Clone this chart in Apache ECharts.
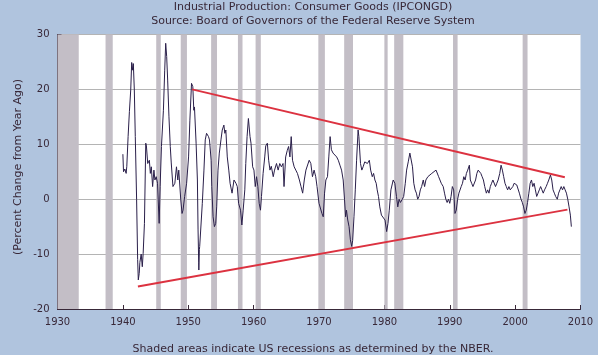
<!DOCTYPE html>
<html><head><meta charset="utf-8">
<script src="https://cdn.jsdelivr.net/npm/echarts@6/dist/echarts.min.js"></script>
<style>html,body{margin:0;padding:0;background:#b0c4de;}#c{width:598px;height:355px;}</style>
</head><body><div id="c"></div>
<script>
const years = [1940.0,1940.1,1940.3,1940.5,1940.6,1940.8,1941.0,1941.2,1941.35,1941.5,1941.6,1941.75,1941.9,1942.1,1942.26,1942.36,1942.5,1942.6,1942.7,1942.8,1942.97,1943.1,1943.3,1943.5,1943.6,1943.8,1944.05,1944.2,1944.35,1944.55,1944.75,1944.9,1945.1,1945.3,1945.55,1945.7,1945.9,1946.2,1946.4,1946.55,1946.7,1946.85,1947.05,1947.25,1947.4,1947.66,1947.95,1948.2,1948.4,1948.55,1948.85,1949.05,1949.2,1949.45,1949.75,1950.05,1950.25,1950.5,1950.7,1950.85,1950.95,1951.2,1951.4,1951.5,1951.6,1951.62,1951.7,1951.75,1951.9,1952.15,1952.4,1952.6,1952.8,1953.1,1953.25,1953.5,1953.6,1953.8,1954.0,1954.2,1954.35,1954.55,1954.75,1955.0,1955.2,1955.45,1955.6,1955.75,1955.97,1956.2,1956.4,1956.7,1957.0,1957.3,1957.5,1957.7,1958.0,1958.2,1958.4,1958.65,1958.8,1959.0,1959.2,1959.45,1959.6,1959.85,1960.05,1960.25,1960.45,1960.65,1960.85,1961.05,1961.2,1961.45,1961.7,1961.85,1962.1,1962.3,1962.5,1962.7,1963.0,1963.2,1963.5,1963.75,1964.0,1964.25,1964.5,1964.65,1964.9,1965.15,1965.35,1965.55,1965.75,1965.95,1966.2,1966.45,1966.7,1967.0,1967.25,1967.5,1967.75,1968.0,1968.25,1968.5,1968.75,1969.0,1969.25,1969.5,1969.7,1970.0,1970.25,1970.45,1970.65,1970.85,1971.05,1971.3,1971.5,1971.7,1971.9,1972.15,1972.4,1972.7,1972.95,1973.2,1973.45,1973.7,1973.9,1974.07,1974.2,1974.4,1974.6,1974.8,1975.0,1975.15,1975.35,1975.55,1975.75,1975.98,1976.1,1976.35,1976.55,1976.75,1977.0,1977.2,1977.4,1977.7,1977.9,1978.15,1978.35,1978.55,1978.75,1978.9,1979.1,1979.3,1979.55,1979.8,1980.1,1980.35,1980.55,1980.75,1981.0,1981.35,1981.6,1981.85,1982.05,1982.25,1982.45,1982.75,1982.95,1983.2,1983.4,1983.65,1983.9,1984.1,1984.3,1984.5,1984.7,1984.9,1985.1,1985.3,1985.5,1985.7,1985.95,1986.15,1986.35,1986.65,1986.95,1987.25,1987.55,1987.9,1988.1,1988.3,1988.5,1988.7,1989.0,1989.2,1989.4,1989.6,1989.8,1990.0,1990.2,1990.4,1990.6,1990.8,1991.0,1991.2,1991.4,1991.75,1991.95,1992.15,1992.35,1992.55,1992.75,1993.0,1993.15,1993.35,1993.55,1993.75,1993.95,1994.15,1994.35,1994.55,1994.75,1994.95,1995.15,1995.35,1995.6,1995.8,1996.0,1996.2,1996.4,1996.6,1996.8,1997.0,1997.2,1997.4,1997.65,1997.85,1998.05,1998.25,1998.45,1998.65,1998.85,1999.05,1999.25,1999.45,1999.65,1999.85,2000.05,2000.25,2000.45,2000.65,2000.9,2001.1,2001.3,2001.5,2001.7,2001.9,2002.1,2002.3,2002.5,2002.7,2002.9,2003.1,2003.3,2003.5,2003.7,2003.9,2004.1,2004.3,2004.5,2004.75,2004.95,2005.15,2005.4,2005.6,2005.8,2006.0,2006.2,2006.45,2006.65,2006.85,2007.05,2007.25,2007.45,2007.65,2007.85,2008.05,2008.25,2008.45,2008.6];
const values = [8.2,5.0,5.5,4.7,6.0,11.4,16,19.9,24.9,23.5,24.7,19.9,11.4,0,-11,-14.7,-13.5,-11.5,-11.7,-10,-12.3,-9.9,-4.4,10.2,9.7,6.5,7.1,4.7,5.9,2.3,5.3,3.5,4.1,2.9,-4.4,2.3,9.6,16.2,23.5,28.4,26,21.7,15,9.6,6.6,2.3,2.9,5.9,3.5,5.3,0,-2.6,-2.0,0.5,2.9,7.7,14.4,21.1,20.5,16.2,16.8,10.2,3.5,-5.6,-11.6,-12.9,-9.2,-8.6,-8.4,-0.75,5.3,10.8,12.0,11.4,10.8,7.1,2.3,-3.2,-5.0,-4.4,-1.4,5.3,8.4,10.8,12.6,13.5,12,12.6,7.7,5.3,2.9,1.1,3.5,2.9,2.3,-0.75,-2,-4.7,-2.0,1.7,6.5,11.4,14.7,11.4,10.2,5.9,5.3,2.3,4.1,2.3,-0.75,-2.0,0.5,4.7,7.7,9.7,10.2,7.1,5.3,6,4.1,5.3,6.5,5.3,6.5,5.9,6.5,2.3,7.7,8.9,9.6,7.7,11.4,7.1,5.9,5.3,4.7,3.5,2.3,1.1,3.5,5.3,5.3,7.1,6.5,4.1,5.3,4.1,2.3,-0.75,-0.75,-2.6,-3.2,1.1,3.5,4.1,7.7,11.4,9,8.4,8.7,7.7,7.1,6.2,5.3,3.5,0,-3.2,-2.0,-3.8,-5,-7.4,-8.6,-7.5,-3.2,1.7,7.1,12.6,11.4,6.5,5.3,5.9,6.8,7.1,6.5,7.1,5.3,4.1,4.7,3.5,2.9,1.7,0.5,-1.4,-2.9,-3.2,-3.8,-5.9,-4.4,-2.0,1.7,3.5,2.9,0.5,-1.4,0,-0.6,0,0.5,2.9,5.3,6.8,8.4,8.4,5.9,2.9,1.7,1.1,0,0.5,1.7,2.3,3.5,2.3,3.5,4.1,4.4,4.7,4.7,5.3,5,4.1,3.5,2.9,2.3,1.1,0,-0.6,0,-0.75,0.5,2.3,1.7,-2.6,-2.0,0,1.1,2.3,2.9,4.1,3.5,4.7,5.3,6.2,3.5,2.9,2.3,2.6,3.5,4.7,5.3,5.3,4.7,4.1,3.5,2.3,1.1,1.7,1.1,2.3,2.9,3.5,3.2,2.3,2.9,3.5,4.7,6.2,5.3,4.1,2.9,2.3,1.7,2.3,1.7,2.0,2.3,2.9,3.2,2.6,2.3,1.1,0,-0.6,-1.4,-2.6,-2.0,-0.6,1.1,2.9,3.5,2.3,2.9,1.7,0.5,1.1,1.7,2.3,1.7,1.1,1.7,2.3,2.9,3.5,4.4,3.5,1.7,1.1,0.5,0,1.1,1.7,2.3,1.7,2.3,1.7,1.1,0,-1.4,-2.9,-5.0];
const recessionStart = [1930.0,1937.35,1945.1,1948.85,1953.5,1957.6,1960.3,1969.9,1973.85,1980.0,1981.5,1990.5,2001.15];
const recessionEnd   = [1933.25,1938.45,1945.8,1949.8,1954.4,1958.3,1961.1,1970.9,1975.2,1980.5,1982.9,1991.2,2001.9];
const upperTrend = [[1950.6,20.0],[2007.6,4.0]];
const lowerTrend = [[1942.3,-15.9],[2008.0,-1.9]];
const xTicks = [1930,1940,1950,1960,1970,1980,1990,2000,2010];
const yTicks = [-20,-10,0,10,20,30];

const txt = '#382838';
const font = 'DejaVu Sans';
const chart = echarts.init(document.getElementById('c'), null, {renderer:'canvas'});
const seriesData = years.map((y,i)=>[y, values[i]]);
const areas = recessionStart.map((s,i)=>[{xAxis:s},{xAxis:recessionEnd[i]}]);
const tf = '11px "DejaVu Sans"';
chart.setOption({
  backgroundColor:'#b0c4de',
  animation:false,
  grid:{left:57.5,right:17.5,top:34.5,bottom:46,show:true,backgroundColor:'#ffffff',borderWidth:0},
  xAxis:{type:'value',min:xTicks[0],max:xTicks[xTicks.length-1],interval:10,
    axisLine:{show:true,onZero:false,lineStyle:{color:txt,width:1}},
    axisTick:{show:true,inside:true,length:4,lineStyle:{color:txt}},
    axisLabel:{color:txt,fontFamily:font,fontSize:10,margin:8,formatter:v=>String(v)},
    splitLine:{show:false}},
  yAxis:{type:'value',min:yTicks[0],max:yTicks[yTicks.length-1],interval:10,
    axisLine:{show:true,lineStyle:{color:txt,width:1}},
    axisTick:{show:true,inside:true,length:4,lineStyle:{color:txt}},
    axisLabel:{color:txt,fontFamily:font,fontSize:10,margin:8},
    splitLine:{show:true,lineStyle:{color:'#b4b4b4',width:1}}},
  graphic:[
    {type:'text',x:313,y:7,style:{text:'Industrial Production: Consumer Goods (IPCONGD)',fill:txt,font:tf,align:'center',verticalAlign:'middle'}},
    {type:'text',x:313,y:21.5,style:{text:'Source: Board of Governors of the Federal Reserve System',fill:txt,font:tf,align:'center',verticalAlign:'middle'}},
    {type:'text',x:313,y:349,style:{text:'Shaded areas indicate US recessions as determined by the NBER.',fill:txt,font:tf,align:'center',verticalAlign:'middle'}},
    {type:'text',x:18,y:167,rotation:Math.PI/2,style:{text:'(Percent Change from Year Ago)',fill:txt,font:tf,align:'center',verticalAlign:'middle'}}
  ],
  series:[
    {type:'line',data:seriesData,symbol:'none',lineStyle:{color:'#2a1f4a',width:1},z:3,
     markArea:{silent:true,itemStyle:{color:'#c3bec6'},data:areas}},
    {type:'line',data:upperTrend,symbol:'none',lineStyle:{color:'#dc3240',width:2},z:4},
    {type:'line',data:lowerTrend,symbol:'none',lineStyle:{color:'#dc3240',width:2},z:4}
  ]
});
</script></body></html>
